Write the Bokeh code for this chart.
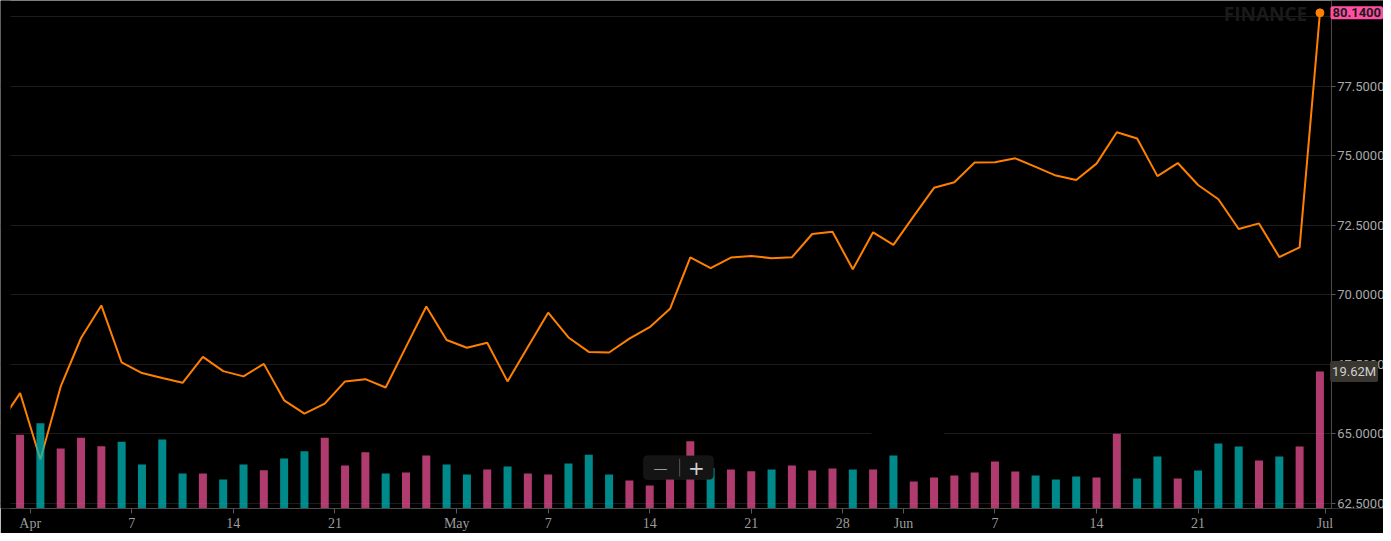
from bokeh.plotting import figure
from bokeh.models import Range1d, FixedTicker, Label, BoxAnnotation, LinearAxis, Grid
from bokeh.embed import file_html
from bokeh.resources import INLINE

# ---- data ----
# closing prices; first value is the session before the first visible bar
closes = [65.38, 66.47, 64.08, 66.71, 68.45, 69.62, 67.57, 67.19, 67.01, 66.84,
          67.77, 67.26, 67.07, 67.52, 66.21, 65.73, 66.09, 66.89, 66.97, 66.67,
          68.13, 69.58, 68.38, 68.10, 68.28, 66.89, 68.13, 69.36, 68.47, 67.95,
          67.93, 68.43, 68.84, 69.50, 71.35, 70.96, 71.34, 71.40, 71.32, 71.35,
          72.19, 72.27, 70.92, 72.25, 71.80, 72.83, 73.85, 74.05, 74.76, 74.77,
          74.91, 74.60, 74.29, 74.13, 74.72, 75.85, 75.62, 74.27, 74.74, 73.95,
          73.44, 72.37, 72.57, 71.36, 71.71, 80.14]

# volume in millions, one per visible session
volumes_m = [10.57, 12.19, 8.57, 10.14, 8.90, 9.57, 6.29, 9.86, 5.00, 5.00,
             4.14, 6.29, 5.47, 7.14, 8.19, 10.14, 6.14, 8.04, 5.00, 5.14,
             7.57, 6.29, 4.86, 5.57, 6.00, 5.00, 4.86, 6.43, 7.71, 4.86,
             4.00, 3.29, 4.50, 9.61, 5.81, 5.57, 5.33, 5.57, 6.14, 5.43,
             5.71, 5.57, 5.57, 7.57, 3.86, 4.43, 4.71, 5.14, 6.71, 5.29,
             4.71, 4.14, 4.57, 4.43, 10.71, 4.29, 7.43, 4.29, 5.43, 9.29,
             8.86, 6.86, 7.43, 8.86, 19.62]

bar_side = ["d", "u", "d", "d", "d", "u", "u", "u", "u", "d",
            "u", "u", "d", "u", "u", "d", "d", "d", "u", "d",
            "d", "u", "u", "d", "u", "d", "d", "u", "u", "u",
            "d", "d", "d", "d", "u", "d", "d", "u", "d", "d",
            "d", "u", "d", "u", "d", "d", "d", "d", "d", "d",
            "u", "u", "u", "d", "d", "u", "u", "d", "u", "u",
            "u", "d", "u", "d", "d"]

x_tick_pos = [0.5, 5.5, 10.5, 15.5, 21.5, 26, 31, 36, 40.5, 43.5, 48, 53, 58, 64.25]
x_tick_labels = ["Apr", "7", "14", "21", "May", "7", "14", "21", "28", "Jun", "7", "14", "21", "Jul"]

price_ticks = [62.5, 65, 67.5, 70, 72.5, 75, 77.5, 80]

last_price_label = "80.1400"
last_volume_label = "19.62M"

# ---- styling ----
UP = "#00b7b9"
DOWN = "#eb4f93"
LINE = "#ff8000"

XL, X1 = -0.965, 67.13      # full canvas width
X0 = -0.473                 # visible chart area starts here
AXIS_X = 64.555             # price scale position

p = figure(width=1383, height=533,
           x_range=Range1d(XL, X1), y_range=Range1d(62.32, 80.584),
           output_backend="svg", toolbar_location=None, y_axis_location=None,
           background_fill_color="black", border_fill_color="black",
           outline_line_color=None,
           min_border_left=0, min_border_right=0, min_border_top=0, min_border_bottom=24)
p.extra_y_ranges = {"vol": Range1d(0, 72.71)}

# grid
p.xgrid.grid_line_color = None
p.add_layout(Grid(dimension=1, ticker=FixedTicker(ticks=price_ticks),
                  grid_line_color="#1c1c1c", grid_line_width=1))

# price line
xs_line = list(range(-1, len(volumes_m)))
p.line(xs_line, closes, line_color=LINE, line_width=2)

# volume bars (drawn over the line, semi transparent)
xs_bar = list(range(len(volumes_m)))
colors = [UP if s == "u" else DOWN for s in bar_side]
p.vbar(x=xs_bar, top=volumes_m, bottom=0, width=0.394, y_range_name="vol",
       fill_color=colors, fill_alpha=0.75, line_color=None)

# last point marker
p.scatter([xs_line[-1]], [closes[-1]], size=8, color=LINE)

# mask the areas outside the chart pane
p.add_layout(BoxAnnotation(left=AXIS_X + 0.02, fill_color="black", fill_alpha=1,
                           line_color=None, level="glyph"))
p.add_layout(BoxAnnotation(right=X0, fill_color="black", fill_alpha=1,
                           line_color=None, level="annotation"))

# small gap in the 65.0 grid line seen in the reference
p.add_layout(BoxAnnotation(left=41.92, right=45.47, bottom=64.93, top=65.07,
                           fill_color="black", fill_alpha=1, line_color=None, level="glyph"))

# x axis
xa = p.xaxis[0]
xa.ticker = FixedTicker(ticks=x_tick_pos)
xa.bounds = (X0, AXIS_X)
xa.major_label_overrides = {t: l for t, l in zip(x_tick_pos, x_tick_labels)}
xa.axis_line_color = "#4a4a4a"
xa.major_tick_line_color = "#5a5a5a"
xa.major_tick_out = 5
xa.major_tick_in = 0
xa.minor_tick_line_color = None
xa.major_label_text_font = "Liberation Serif"
xa.major_label_text_font_size = "14px"
xa.major_label_text_color = "#9c9c9c"
xa.major_label_standoff = 2

# price scale (right side, drawn at a fixed location inside the frame)
ya = LinearAxis(fixed_location=AXIS_X, ticker=FixedTicker(ticks=price_ticks))
ya.major_label_overrides = {t: (f"{t:.4f}" if t != 80 else "") for t in price_ticks}
ya.axis_line_color = "#4a4a4a"
ya.major_tick_line_color = "#5a5a5a"
ya.major_tick_out = 4
ya.major_tick_in = 0
ya.minor_tick_line_color = None
ya.major_label_text_font = "Roboto"
ya.major_label_text_font_size = "13px"
ya.major_label_text_color = "#a8a8a8"
ya.major_label_standoff = 2
p.add_layout(ya, "right")

# watermark
p.add_layout(Label(x=61.32, y=80.10, text="FINANCE", text_align="center",
                   text_baseline="alphabetic", text_font="Open Sans",
                   text_font_size="19px", text_font_style="bold", text_color="#1a1a1a"))

# last price label
p.add_layout(Label(x=64.52, y=closes[-1], text=last_price_label, text_align="left",
                   text_baseline="middle", text_font="Roboto", text_font_size="13px",
                   text_font_style="bold", text_color="#1a1a1a",
                   background_fill_color="#ff4fa3", background_fill_alpha=1,
                   padding=(2, 2), border_radius=2))

# last volume label
p.add_layout(Label(x=64.50, y=volumes_m[-1], y_range_name="vol", text=last_volume_label,
                   text_align="left", text_baseline="middle", text_font="Roboto",
                   text_font_size="13px", text_color="#d0d0d0",
                   background_fill_color="#3a3630", background_fill_alpha=1,
                   padding=(2, 3), border_radius=2))

# zoom control overlay
p.add_layout(BoxAnnotation(left=30.69, right=34.14, bottom=63.36, top=64.22,
                           fill_color="#141414", fill_alpha=1,
                           line_color="#2a2a2a", line_width=1, border_radius=4))
p.add_layout(BoxAnnotation(left=32.45, right=32.50, bottom=63.47, top=64.11,
                           fill_color="#555555", fill_alpha=1, line_color=None))
p.add_layout(Label(x=31.53, y=63.79, text="\u2014", text_align="center",
                   text_baseline="middle", text_font="DejaVu Sans",
                   text_font_size="14px", text_color="#9a9a9a"))
p.add_layout(Label(x=33.30, y=63.79, text="+", text_align="center",
                   text_baseline="middle", text_font="DejaVu Sans",
                   text_font_size="20px", text_color="#d0d0d0"))

open("out.html", "w").write(file_html(p, INLINE))
